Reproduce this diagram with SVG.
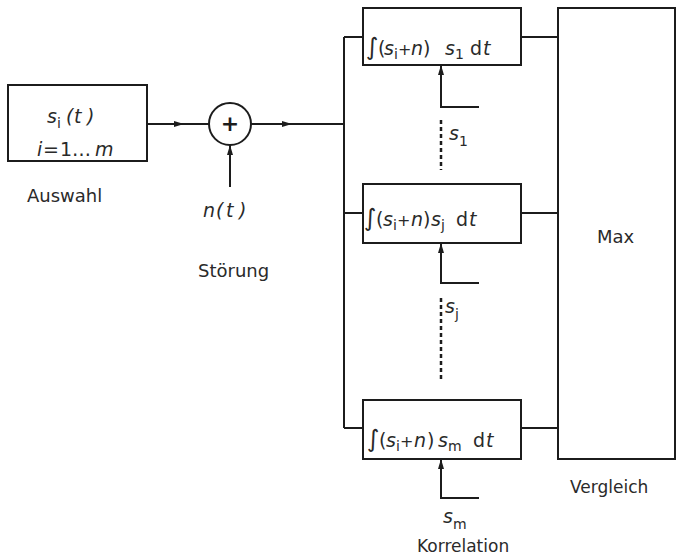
<svg xmlns="http://www.w3.org/2000/svg" width="677" height="559" viewBox="0 0 677 559">
<style>
  .box{fill:none;stroke:#1c1c1c;stroke-width:2}
  .ln{fill:none;stroke:#1c1c1c;stroke-width:2}
  .dash{fill:none;stroke:#1c1c1c;stroke-width:2.5;stroke-dasharray:4 3}
  text{font-family:"DejaVu Sans","Liberation Sans",sans-serif;font-size:17px;fill:#2a2a2a}
  .m{font-size:19px}
  .it{font-style:italic}
  .sub{font-size:14px}
  .int{font-size:24px}
  .pl{font-size:16px}
</style>
<defs>
  <marker id="ah" viewBox="0 0 10 6" refX="10" refY="3" markerWidth="10" markerHeight="6" markerUnits="userSpaceOnUse" orient="auto">
    <path d="M0,0 L10,3 L0,6 z" fill="#1c1c1c"/>
  </marker>
</defs>
<rect width="677" height="559" fill="#ffffff"/>

<g id="connectors">
  <path class="ln" d="M147,124 L184,124 L209,124" marker-mid="url(#ah)"/>
  <path class="ln" d="M251,124 L292,124 L344,124" marker-mid="url(#ah)"/>
  <path class="ln" d="M230,187 L230,145" marker-end="url(#ah)"/>
  <path class="ln" d="M344,37 L344,428"/>
  <path class="ln" d="M344,37 L363,37"/>
  <path class="ln" d="M344,213 L363,213"/>
  <path class="ln" d="M344,428 L363,428"/>
  <path class="ln" d="M521,37 L558,37"/>
  <path class="ln" d="M521,213 L558,213"/>
  <path class="ln" d="M521,428 L558,428"/>
  <path class="ln" d="M479,107 L441,107 L441,65" marker-end="url(#ah)"/>
  <path class="ln" d="M479,283 L441,283 L441,243" marker-end="url(#ah)"/>
  <path class="ln" d="M479,498 L441,498 L441,459" marker-end="url(#ah)"/>
  <path class="dash" d="M441,120 L441,170"/>
  <path class="dash" d="M441,298 L441,382"/>
</g>

<g id="auswahl">
  <rect class="box" x="8" y="85" width="139" height="76"/>
  <text class="m" y="123"><tspan class="it" x="47">s</tspan><tspan class="sub" x="57" dy="5">i</tspan><tspan class="it" dy="-5" x="66 74 87">(t)</tspan></text>
  <text class="m" y="156"><tspan class="it" x="37">i</tspan><tspan x="43">=</tspan><tspan x="60">1</tspan><tspan x="72">…</tspan><tspan class="it" x="95">m</tspan></text>
  <text x="27" y="202" style="font-size:18px">Auswahl</text>
</g>

<g id="stoerung">
  <circle cx="230" cy="124" r="21" fill="#fff" stroke="#1c1c1c" stroke-width="2"/>
  <text x="230" y="131" text-anchor="middle" font-weight="bold" style="font-size:22px;fill:#1c1c1c">+</text>
  <text class="m it" x="203 216 226 239" y="217">n(t)</text>
  <text x="198" y="277" style="font-size:18px">Störung</text>
</g>

<g id="korr1">
  <rect class="box" x="363" y="8" width="158" height="57"/>
  <text class="m" y="55"><tspan class="int" x="366">∫</tspan><tspan x="378">(</tspan><tspan class="it" x="384">s</tspan><tspan class="sub" x="394" dy="4">i</tspan><tspan class="pl" dy="-4" x="398">+</tspan><tspan class="it" x="411">n</tspan><tspan x="423">)</tspan><tspan class="it" x="445">s</tspan><tspan class="sub" x="455" dy="4">1</tspan><tspan dy="-4" x="470">d</tspan><tspan class="it" x="483">t</tspan></text>
  <text class="m" y="140"><tspan class="it" x="449">s</tspan><tspan class="sub" x="459" dy="6">1</tspan></text>
</g>

<g id="korrj">
  <rect class="box" x="363" y="184" width="158" height="59"/>
  <text class="m" y="226"><tspan class="int" x="364">∫</tspan><tspan x="376">(</tspan><tspan class="it" x="383">s</tspan><tspan class="sub" x="393" dy="4">i</tspan><tspan class="pl" dy="-4" x="397">+</tspan><tspan class="it" x="411">n</tspan><tspan x="423">)</tspan><tspan class="it" x="431">s</tspan><tspan class="sub" x="441" dy="4">j</tspan><tspan dy="-4" x="456">d</tspan><tspan class="it" x="469">t</tspan></text>
  <text class="m" y="313"><tspan class="it" x="445">s</tspan><tspan class="sub" x="455" dy="6">j</tspan></text>
</g>

<g id="korrm">
  <rect class="box" x="363" y="400" width="158" height="59"/>
  <text class="m" y="447"><tspan class="int" x="367">∫</tspan><tspan x="379">(</tspan><tspan class="it" x="386">s</tspan><tspan class="sub" x="396" dy="4">i</tspan><tspan class="pl" dy="-4" x="400">+</tspan><tspan class="it" x="414">n</tspan><tspan x="427">)</tspan><tspan class="it" x="438">s</tspan><tspan class="sub" x="448" dy="4">m</tspan><tspan dy="-4" x="473">d</tspan><tspan class="it" x="486">t</tspan></text>
  <text class="m" y="523"><tspan class="it" x="443">s</tspan><tspan class="sub" x="453" dy="6">m</tspan></text>
  <text x="417" y="552">Korrelation</text>
</g>

<g id="vergleich">
  <rect class="box" x="558" y="8" width="117" height="451"/>
  <text x="597" y="243" style="font-size:18px">Max</text>
  <text x="570" y="493">Vergleich</text>
</g>
</svg>
